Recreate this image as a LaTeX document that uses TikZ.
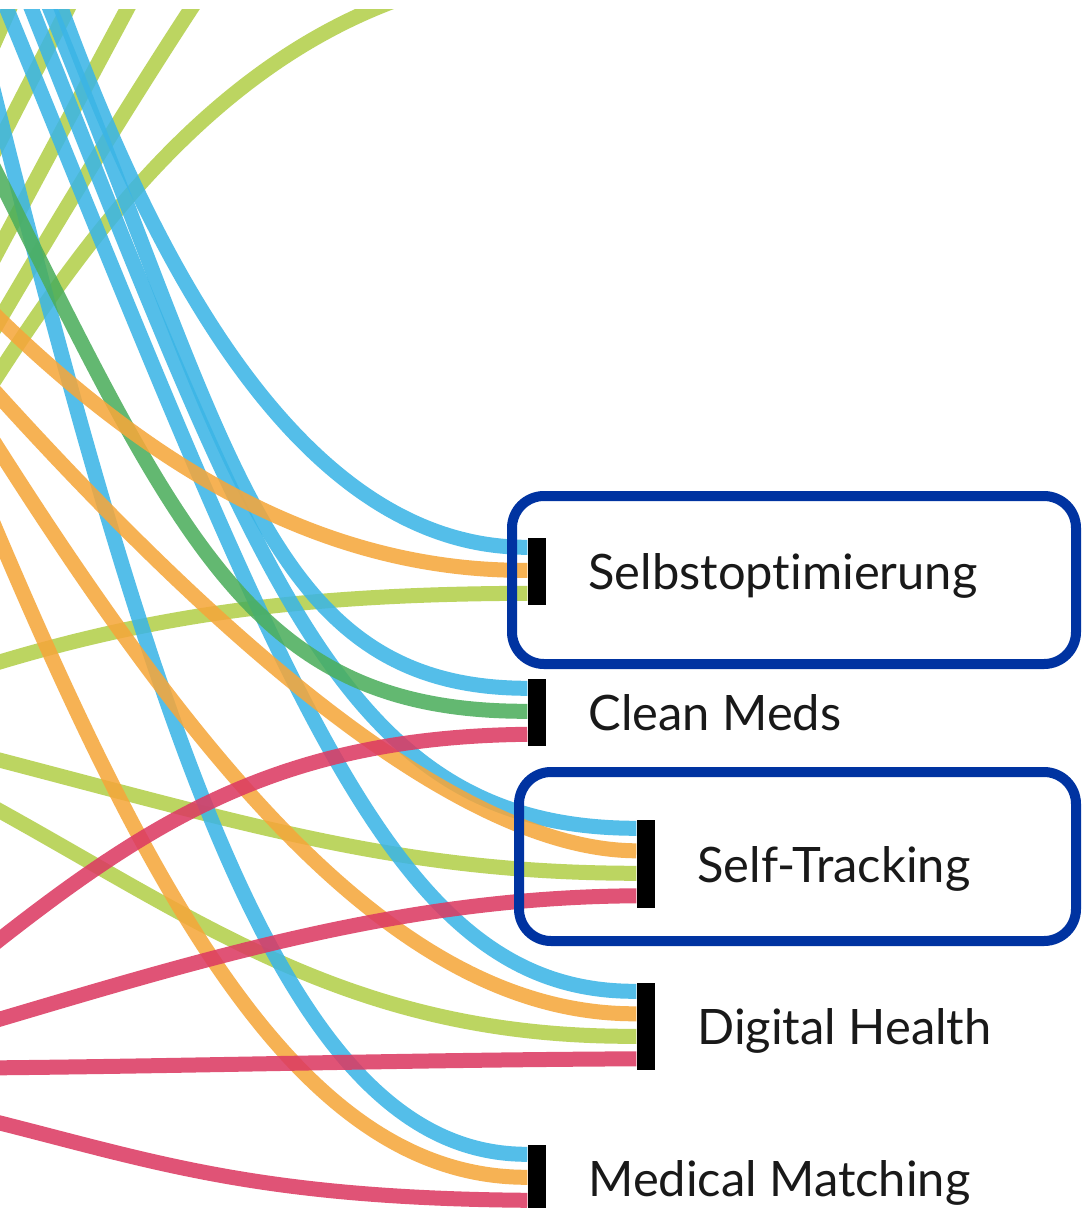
\documentclass[tikz,border=0pt]{standalone}
\usepackage{fontspec}
\setmainfont{Lato}[Ligatures=NoCommon]
\usepackage{tikz}
\usetikzlibrary{positioning,calc}

\definecolor{flowblue}{HTML}{3BB5E6}
\definecolor{floworange}{HTML}{F5A73B}
\definecolor{flowlime}{HTML}{B3CF4A}
\definecolor{flowgreen}{HTML}{4CAE5C}
\definecolor{flowred}{HTML}{DC3A62}
\definecolor{boxblue}{HTML}{0033A1}

\pgfdeclarelayer{canvas}
\pgfdeclarelayer{flows}
\pgfsetlayers{canvas,flows,main}

\begin{document}
\begin{tikzpicture}[x=0.1mm, y=-0.1mm,
  flow/.style={line width=1.5mm, opacity=0.87},
  bar/.style={fill=black, inner sep=0pt, minimum width=1.8mm},
  lbl/.style={font=\fontsize{13.9pt}{15pt}\selectfont, text=black!90, inner sep=0pt, text height=3.6mm, text depth=0pt},
  frame/.style={draw=boxblue, line width=1mm, rounded corners=3.2mm}]
%%%%% Canvas %%%%%
\useasboundingbox (0,0) rectangle (1082,1208);
\begin{pgfonlayer}{canvas}
\fill[white] (0,0) rectangle (1082,1208);
\end{pgfonlayer}

%%%%% Bars and labels %%%%%
\node[bar, minimum height=6.7mm] (selbst) at (537,571.5) {};
\node[bar, minimum height=6.7mm] (clean) at (537,712.5) {};
\node[bar, minimum height=8.8mm] (selft) at (646,864) {};
\node[bar, minimum height=8.7mm] (digital) at (646,1026.5) {};
\node[bar, minimum height=6.7mm] (medical) at (537,1178.5) {};

\node[lbl, right=4.1mm of selbst] (selbst-t) {Selbstopt\kern0pt imierung};
\node[lbl, right=4.1mm of clean] (clean-t) {Clean Meds};
\node[lbl, right=4.1mm of selft] (selft-t) {Self-Tracking};
\node[lbl, right=4.1mm of digital] (digital-t) {Digital Health};
\node[lbl, right=4.1mm of medical] (medical-t) {Medical Matching};

\draw[frame] (512,496) rectangle (1076,664);
\draw[frame] (519,772) rectangle (1076,941);

%%%%% Line ends %%%%%
\foreach \b in {selbst,clean,medical}{
  \foreach \i in {1,2,3}
    \coordinate (\b-\i) at ($(\b.north west)+(0,-13+23*\i)$);
}
\foreach \b in {selft,digital}{
  \foreach \i in {1,...,4}
    \coordinate (\b-\i) at ($(\b.north west)+(0,-13.5+22.5*\i)$);
}

%%%%% Free ends %%%%%
\coordinate (in-b1) at (51,-20);
\coordinate (in-b2) at (38,-20);
\coordinate (in-b3) at (20,-20);
\coordinate (in-b4) at (-5,-20);
\coordinate (in-b5) at (-8,85);
\coordinate (in-g1) at (-15,150);
\coordinate (in-o1) at (-20,300);
\coordinate (in-o2) at (-20,375);
\coordinate (in-o3) at (-20,420);
\coordinate (in-o4) at (-25,480);
\coordinate (in-l1) at (-20,668);
\coordinate (in-l2) at (-20,755);
\coordinate (in-l3) at (-20,800);
\coordinate (in-r1) at (-20,955);
\coordinate (in-r2) at (-20,1025);
\coordinate (in-r3) at (-20,1068);
\coordinate (in-r4) at (-20,1118);
\coordinate (up-a1) at (-20,75);   \coordinate (up-a2) at (20,-15);
\coordinate (up-b1) at (-15,170);  \coordinate (up-b2) at (80,-15);
\coordinate (up-c1) at (-15,275);  \coordinate (up-c2) at (140,-15);
\coordinate (up-d1) at (-15,345);  \coordinate (up-d2) at (210,-20);
\coordinate (up-e1) at (-15,395);  \coordinate (up-e2) at (420,-8);

%%%%% Flows %%%%%
\begin{pgfonlayer}{flows}
\begin{scope}
\clip (0,9) rectangle (1082,1208);
% lime
\draw[flow,flowlime] (up-a1) -- (up-a2);
\draw[flow,flowlime] (up-b1) -- (up-b2);
\draw[flow,flowlime] (up-c1) -- (up-c2);
\draw[flow,flowlime] (up-d1) .. controls (60,215) and (150,70) .. (up-d2);
\draw[flow,flowlime] (up-e1) .. controls (90,230) and (220,55) .. (up-e2);
\draw[flow,flowlime] (in-l1) .. controls (150,615) and (300,594) .. (selbst-3);
\draw[flow,flowlime] (in-l2) .. controls (250,825) and (400,873) .. (selft-3);
\draw[flow,flowlime] (in-l3) .. controls (200,920) and (350,1038) .. (digital-3);
% blue
\draw[flow,flowblue] (in-b1) .. controls (150,260) and (300,548) .. (selbst-1);
\draw[flow,flowblue] (in-b2) .. controls (230,440) and (260,688) .. (clean-1);
\draw[flow,flowblue] (in-b3) .. controls (260,580) and (340,828) .. (selft-1);
\draw[flow,flowblue] (in-b4) .. controls (290,700) and (390,993) .. (digital-1);
\draw[flow,flowblue] (in-b5) .. controls (170,800) and (300,1155) .. (medical-1);
% green
\draw[flow,flowgreen] (in-g1) .. controls (180,540) and (250,712) .. (clean-2);
% orange
\draw[flow,floworange] (in-o1) .. controls (120,440) and (300,572) .. (selbst-2);
\draw[flow,floworange] (in-o2) .. controls (200,620) and (450,850) .. (selft-2);
\draw[flow,floworange] (in-o3) .. controls (200,770) and (400,1015) .. (digital-2);
\draw[flow,floworange] (in-o4) .. controls (150,900) and (300,1178) .. (medical-2);
% red
\draw[flow,flowred] (in-r1) .. controls (150,820) and (280,737) .. (clean-3);
\draw[flow,flowred] (in-r2) .. controls (200,960) and (400,897) .. (selft-4);
\draw[flow,flowred] (in-r3) .. controls (200,1066) and (400,1060) .. (digital-4);
\draw[flow,flowred] (in-r4) .. controls (150,1160) and (250,1198) .. (medical-3);
\end{scope}
\end{pgfonlayer}
\end{tikzpicture}
\end{document}
